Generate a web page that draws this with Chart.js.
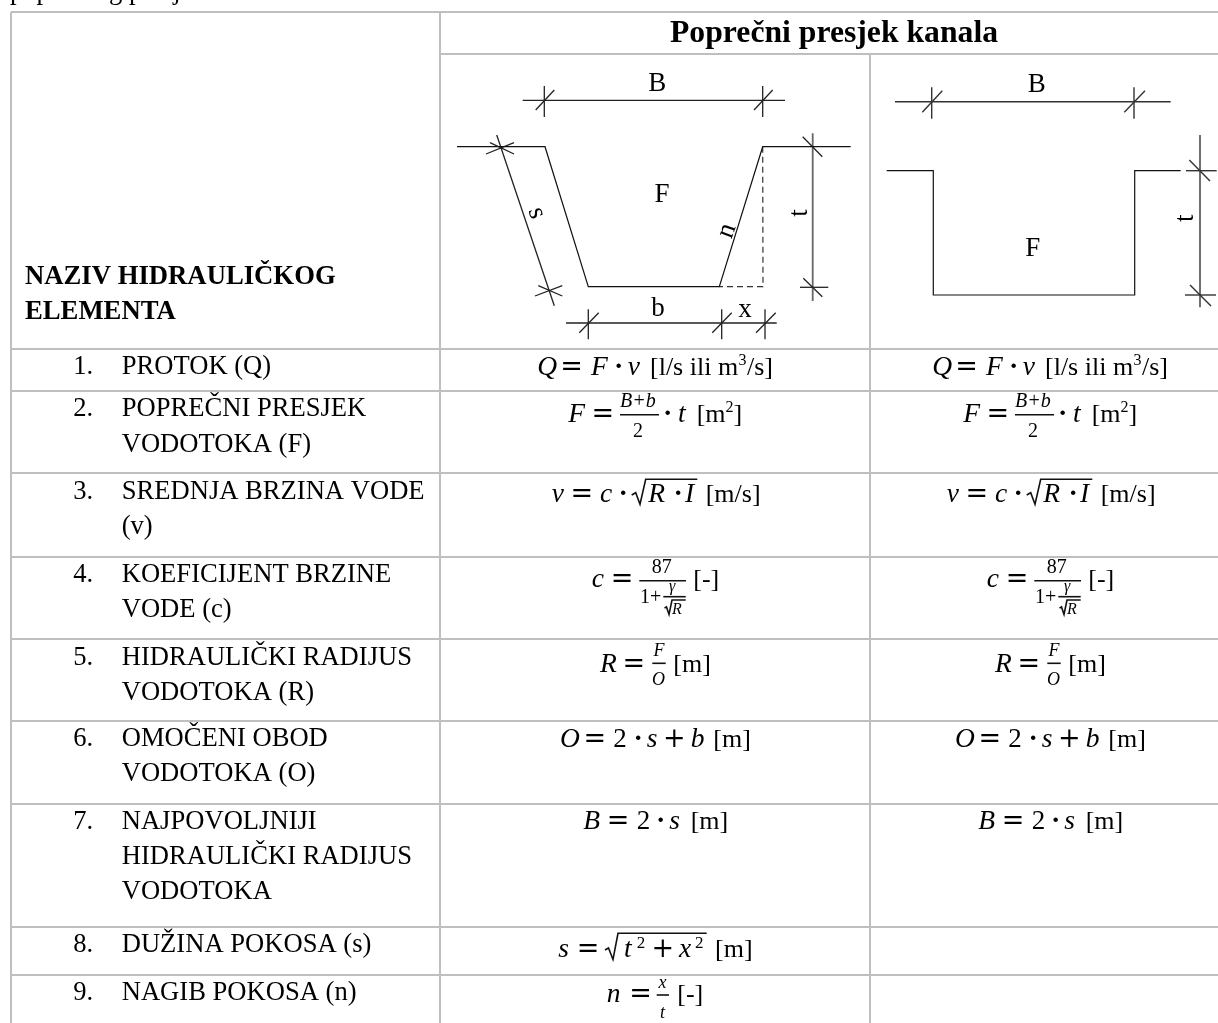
<!DOCTYPE html>
<html>
<head>
<meta charset="utf-8">
<title>Poprečni presjek kanala</title>
<script src="https://cdn.jsdelivr.net/npm/chart.js@4"></script>
<style>
html,body{margin:0;padding:0;background:#fff;overflow:hidden}
canvas{display:block}
</style>
</head>
<body>
<canvas id="c" width="1218" height="1023"></canvas>
<script>
// ---- Text content ----
const clippedLine = "poprečnog presjeka";
const titleText = "Poprečni presjek kanala";
const headerLines = ["NAZIV HIDRAULIČKOG", "ELEMENTA"];
const rowNumbers = ["1.","2.","3.","4.","5.","6.","7.","8.","9."];
const rowNames = [
  ["PROTOK (Q)"],
  ["POPREČNI PRESJEK","VODOTOKA (F)"],
  ["SREDNJA BRZINA VODE","(v)"],
  ["KOEFICIJENT BRZINE","VODE (c)"],
  ["HIDRAULIČKI RADIJUS","VODOTOKA (R)"],
  ["OMOČENI OBOD","VODOTOKA (O)"],
  ["NAJPOVOLJNIJI","HIDRAULIČKI RADIJUS","VODOTOKA"],
  ["DUŽINA POKOSA (s)"],
  ["NAGIB POKOSA (n)"]
];
const rowBaselines = [
  [374],[416,451.5],[498.5,533.5],[581.5,616.5],[665,700],
  [745.5,780.5],[828.5,863.5,899],[951.5],[1000]
];

// ---- Table rules (table units) ----
const ruleRows = [349,391,473,557,639,721,804,927,975];
const ruleTop = [[11,12],[1218,12]];
const ruleTitle = [[440,54],[1218,54]];
const ruleLeft = [[11,12],[11,1023]];
const ruleMid = [[440,12],[440,1023]];
const ruleCol2 = [[870,54],[870,1023]];

// ---- Cross-section sketches (table units) ----
const trapezoid = [[457,146.7],[545,146.7],[588.3,286.7],[719.3,286.7],[762.7,146.7],[850.7,146.7]];
const trapezoidDashed = [[762.7,146.7],[763,286.7],[719.3,286.7]];
const trapezoidDims = [
  [[522.7,100.3],[785,100.3]],[[544.3,86],[544.3,117]],[[535.7,110],[554.3,90]],
  [[762.7,86],[762.7,117]],[[754,110],[772.7,90]],
  [[496.7,135],[554.3,305.7]],[[486,154],[514,142.7]],[[490,142.7],[514,154]],
  [[535,296],[562.3,285.7]],[[538.3,285.7],[562.3,296]],
  [[802.7,136.7],[822.3,156.7]],[[800,287.3],[828.3,287.3]],[[803.3,278.3],[822.3,296.7]],
  [[566,323],[776.7,323]],[[588.3,309.3],[588.3,339.3]],[[721.7,309.3],[721.7,339.3]],[[765,309.3],[765,339.3]],
  [[579.3,332.7],[598.7,312.7]],[[712.3,332.7],[731.7,312.7]],[[756,332.7],[775.7,312.7]]
];
const trapezoidDepth = [[812.7,133.3],[812.7,301]];
const rectangle = [[886.7,170.7],[933.3,170.7],[933.3,295],[1134.7,295],[1134.7,170.7],[1180.7,170.7]];
const rectangleDims = [
  [[1186,170.7],[1216.7,170.7]],
  [[895,101.7],[1170.7,101.7]],[[931.7,87.3],[931.7,118.7]],[[1134,87.3],[1134,118.7]],
  [[922.3,112.3],[942.3,90.7]],[[1124.3,112.3],[1145,90.7]],
  [[1200,135],[1200,307.3]],[[1189.3,160],[1210,181]],[[1185,295],[1216,295]],[[1190,285],[1211,306]]
];
const sketchLabels = [
  ["B",657.3,90.7,"s",0],["F",662,202,"s",0],["b",658,316,"s",0],["x",745,316.7,"s",0],
  ["B",1036.7,92.3,"s",0],["F",1032.7,255.7,"s",0]
];
const sketchRotated = [
  ["s",536.7,213,"s",72],["n",727,230.7,"s",-70],["t",800,213,"s",-90],["t",1186,218.3,"s",-90]
];

// ---- Formula marks (col 1 units; col 2 repeats rows 1-7) ----
const formulaLines = [
  [[[620,414.7],[659,414.7]]],
  [[[631.7,495],[635.7,492.7],[640,504.3],[645.7,479.3],[697.3,479.3]]],
  [[[639.3,580.7],[686,580.7]],[[663.3,596.7],[685.7,596.7]],
   [[664.5,608],[666.5,607],[669,614.5],[672,600],[685.7,600]]],
  [[[652.3,663.3],[665.7,663.3]]],
  [],[],
];
const formulaLinesCol1Only = [
  [[605,950],[608.5,948],[613,959.5],[618,933.3],[706.7,933.3]],
  [[656.7,995],[669,995]]
];
const formulaText = [
  [["Q","m",537.3,375],["=","e",560.2,375],["F","m",591,375],["·","d",614,375],["v","m",627.7,375],["[l/s ili m","b",650,375],["3","p",738.5,365],["/s]","b",747,375]],
  [["F","m",568.3,422.3],["=","e",591.5,422.3],["B+b","f",620,406.7],["2","g",633,436.7],["·","d",663,422.3],["t","m",678,422.3],["[m","b",696.7,422.3],["2","p",725.5,412],["]","b",733.5,422.3]],
  [["v","m",551.7,501.7],["=","e",570.5,501.7],["c","m",600,501.7],["·","d",618.5,501.7],["R","m",648.3,501.7],["·","d",673.5,501.7],["I","m",685,501.7],["[m/s]","b",705.7,501.7]],
  [["c","m",591.7,586.7],["=","e",610.8,586.7],["87","g",651.7,573.3],["1+","g",640,602.7],["γ","t",669,591],["R","t",672,614.3],["[-]","b",693.3,586.7]],
  [["R","m",600,671.7],["=","e",622.5,671.7],["F","r",653.5,656],["O","r",652,685],["[m]","b",673.3,671.7]],
  [["O","m",560,747.3],["=","e",583.5,747.3],["2","u",613.3,747.3],["·","d",633.5,747.3],["s","m",646.7,747.3],["+","e",663,747.3],["b","m",690.7,747.3],["[m]","b",713.3,747.3]],
  [["B","m",583.3,829],["=","e",606.8,829],["2","u",636.7,829],["·","d",656,829],["s","m",669.3,829],["[m]","b",690.7,829]]
];
const formulaTextCol1Only = [
  [["s","m",558.3,956.7],["=","e",576.8,956.7],["t","m",624,956.7],["2","q",636.7,948.3],["+","e",651.5,956.7],["x","m",679,956.7],["2","q",695,948.3],["[m]","b",715,956.7]],
  [["n","m",606.7,1001.7],["=","e",629.2,1001.7],["x","r",658.5,987.7],["t","r",660,1018.3],["[-]","b",677.3,1001.7]]
];
const col2Shift = 395;

// ---- Styles ----
const serif = '"Liberation Serif"';
const fonts = {
  n:`26.6px ${serif}`, h:`bold 26.7px ${serif}`, T:`bold 31.7px ${serif}`, s:`27px ${serif}`,
  m:`italic 27.5px ${serif}`, e:`27px "DejaVu Serif"`, u:`27px ${serif}`, d:`bold 28px ${serif}`, b:`26px ${serif}`,
  p:`16px ${serif}`, f:`italic 20px ${serif}`, g:`20px ${serif}`, r:`italic 18px ${serif}`, q:`17px ${serif}`, t:`italic 16px ${serif}`
};
const GRID = '#bfbfbf', INK = '#111', DIM = '#333';

function seg(points, color, width, dash){
  return {data: points.map(p=>({x:p[0],y:p[1]})), showLine:true, borderColor:color, borderWidth:width,
    borderDash:dash||[], pointRadius:0, tension:0, fill:false, clip:false, borderCapStyle:'butt', borderJoinStyle:'miter'};
}
const datasets = [];
ruleRows.forEach(y=>datasets.push(seg([[11,y],[1218,y]],GRID,2)));
[ruleTop,ruleTitle,ruleLeft,ruleMid,ruleCol2].forEach(r=>datasets.push(seg(r,GRID,2)));
datasets.push(seg(trapezoid,INK,1.2));
datasets.push(seg(trapezoidDashed,DIM,1.2,[6,4]));
trapezoidDims.forEach(r=>datasets.push(seg(r,'#222',1.3)));
datasets.push(seg(trapezoidDepth,'#666',1.8));
datasets.push(seg(rectangle,INK,1.2));
rectangleDims.forEach(r=>datasets.push(seg(r,DIM,1.4)));
formulaLines.forEach(group=>group.forEach(r=>{
  datasets.push(seg(r,INK,1.6));
  datasets.push(seg(r.map(p=>[p[0]+col2Shift,p[1]]),INK,1.6));
}));
formulaLinesCol1Only.forEach(r=>datasets.push(seg(r,INK,1.6)));

const textPlugin = {
  id:'tableText',
  afterDatasetsDraw(chart){
    const ctx = chart.ctx, X = chart.scales.x, Y = chart.scales.y;
    const put = (txt,font,x,y)=>{ctx.font=font;ctx.fillText(txt,X.getPixelForValue(x),Y.getPixelForValue(y));};
    ctx.save();
    ctx.fillStyle='#000'; ctx.textAlign='left'; ctx.textBaseline='alphabetic';
    put(clippedLine,fonts.n,10,-1.5);
    put(titleText,fonts.T,670,41.7);
    put(headerLines[0],fonts.h,25,284);
    put(headerLines[1],fonts.h,25,319.3);
    rowNames.forEach((lines,i)=>{
      put(rowNumbers[i],fonts.n,73.3,rowBaselines[i][0]);
      lines.forEach((l,j)=>put(l,fonts.n,121.7,rowBaselines[i][j]));
    });
    ctx.textAlign='center';
    sketchLabels.forEach(l=>put(l[0],fonts[l[3]],l[1],l[2]));
    ctx.textBaseline='middle';
    sketchRotated.forEach(l=>{
      ctx.save();
      ctx.translate(X.getPixelForValue(l[1]),Y.getPixelForValue(l[2]));
      ctx.rotate(l[4]*Math.PI/180);
      ctx.font=fonts[l[3]];
      ctx.fillText(l[0],0,0);
      ctx.restore();
    });
    ctx.textAlign='left'; ctx.textBaseline='alphabetic';
    formulaText.forEach(row=>row.forEach(p=>{
      put(p[0],fonts[p[1]],p[2],p[3]);
      put(p[0],fonts[p[1]],p[2]+col2Shift,p[3]);
    }));
    formulaTextCol1Only.forEach(row=>row.forEach(p=>put(p[0],fonts[p[1]],p[2],p[3])));
    ctx.restore();
  }
};

new Chart(document.getElementById('c'),{
  type:'scatter',
  data:{datasets},
  plugins:[textPlugin],
  options:{
    responsive:false, animation:false, maintainAspectRatio:false,
    layout:{padding:0},
    events:[],
    plugins:{legend:{display:false},tooltip:{enabled:false},title:{display:false}},
    scales:{
      x:{type:'linear',min:0,max:1218,display:false},
      y:{type:'linear',min:0,max:1023,reverse:true,display:false}
    }
  }
});
</script>
</body>
</html>
